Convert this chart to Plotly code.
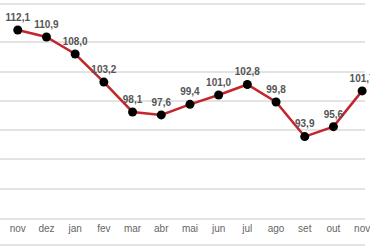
import plotly.graph_objects as go

months = ["nov", "dez", "jan", "fev", "mar", "abr", "mai", "jun", "jul", "ago", "set", "out", "nov"]
values = [112.1, 110.9, 108.0, 103.2, 98.1, 97.6, 99.4, 101.0, 102.8, 99.8, 93.9, 95.6, 101.7]
labels = [f"{v:.1f}".replace(".", ",") for v in values]
xi = list(range(len(months)))

fig = go.Figure()
fig.add_trace(go.Scatter(
    x=xi, y=values, mode="lines+markers+text",
    text=labels, textposition="top center",
    textfont=dict(family="Liberation Sans, Arial, sans-serif", size=10, color="#555555", weight="bold"),
    line=dict(color="#c1272d", width=2.5),
    marker=dict(color="#000000", size=9),
    cliponaxis=False,
))

grid = "#e3e3e3"
fig.update_layout(
    width=370, height=250,
    margin=dict(l=0, r=0, t=13, b=32),
    paper_bgcolor="white", plot_bgcolor="white",
    showlegend=False,
    xaxis=dict(range=[-0.619, 12.10], tickmode="array", tickvals=xi, ticktext=months,
               showgrid=False, zeroline=False, showline=True, linecolor=grid, linewidth=2,
               tickfont=dict(family="Liberation Sans, Arial, sans-serif", size=10, color="#666666"),
               ticklabeloverflow="allow", ticks="", fixedrange=True),
    yaxis=dict(range=[80, 115], dtick=5, tick0=80, showgrid=True, gridcolor=grid, gridwidth=2,
               showticklabels=False, zeroline=False, ticks="", fixedrange=True),
    shapes=[
        dict(type="line", xref="paper", yref="paper", x0=0, x1=1, y0=1.044, y1=1.044,
             line=dict(color=grid, width=2)),
        dict(type="line", xref="paper", yref="paper", x0=0, x1=1, y0=-0.132, y1=-0.132,
             line=dict(color=grid, width=2)),
    ],
)
fig.write_html("out.html")
